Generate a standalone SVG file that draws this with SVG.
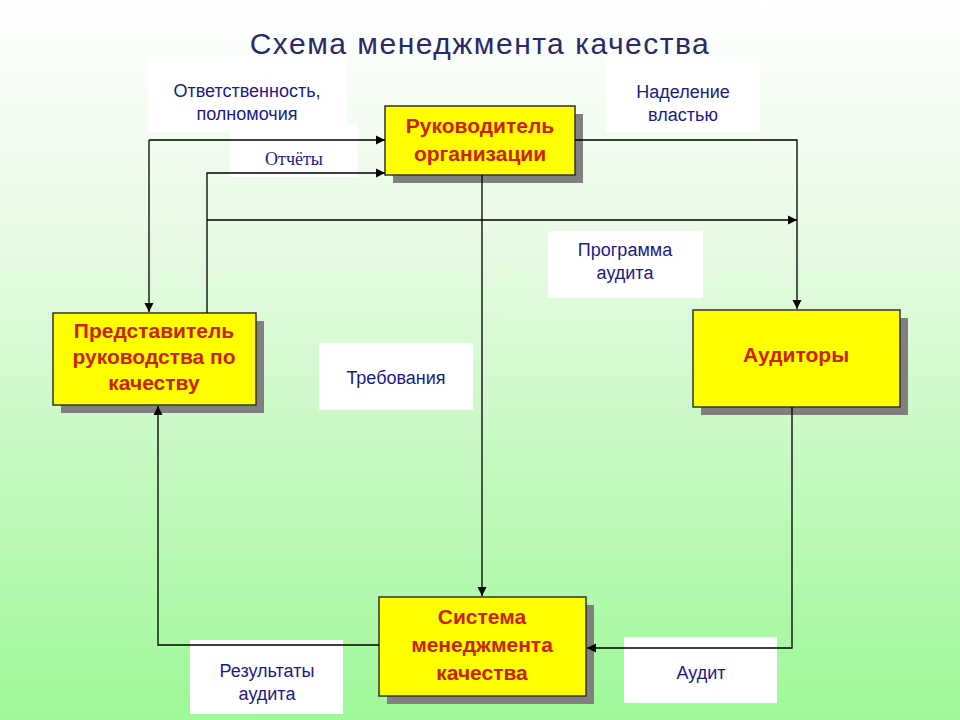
<svg xmlns="http://www.w3.org/2000/svg" width="960" height="720" viewBox="0 0 960 720">
<defs>
<linearGradient id="bg" x1="0" y1="0" x2="0" y2="1">
<stop offset="0" stop-color="#ffffff"/><stop offset="0.35" stop-color="#e6fae2"/><stop offset="1" stop-color="#9ef898"/>
</linearGradient>
<marker id="ar" viewBox="0 0 10 10" refX="10" refY="5" markerWidth="7" markerHeight="7" orient="auto"><path d="M0,0L10,5L0,10z" fill="#000"/></marker>
<style>
.lbl{fill:#fff}
.lt{font-family:"Liberation Sans",Arial,sans-serif;font-size:18px;fill:#1a1a8a;text-anchor:middle}
.sh{fill:#808080}
.nb{fill:#ffff00;stroke:#333;stroke-width:1.5}
.nt{font-family:"Liberation Sans",Arial,sans-serif;font-size:21px;font-weight:bold;fill:#cc2200;text-anchor:middle}
.c{fill:none;stroke:#000;stroke-width:1.3;marker-end:url(#ar)}
</style>
</defs>
<rect width="960" height="720" fill="url(#bg)"/>
<text x="480" y="54" font-family="Liberation Sans,Arial,sans-serif" font-size="30" letter-spacing="1.5" fill="#2a2a6a" text-anchor="middle">Схема менеджмента качества</text>
<g id="labels">
<rect class="lbl" x="147" y="56" width="200" height="76"/>
<text class="lt" x="247" y="97">Ответственность,</text><text class="lt" x="247" y="120">полномочия</text>
<rect class="lbl" x="230" y="124" width="128" height="53"/>
<text x="294" y="165" font-family="Liberation Serif,serif" font-size="18" fill="#1a1a8a" text-anchor="middle">Отчёты</text>
<rect class="lbl" x="606" y="57" width="154" height="75"/>
<text class="lt" x="683" y="98">Наделение</text><text class="lt" x="683" y="121">властью</text>
<rect class="lbl" x="548" y="231" width="155" height="67"/>
<text class="lt" x="625" y="256">Программа</text><text class="lt" x="625" y="279">аудита</text>
<rect class="lbl" x="319" y="343" width="154" height="67"/>
<text class="lt" x="396" y="384">Требования</text>
<rect class="lbl" x="190" y="640" width="153" height="74"/>
<text class="lt" x="267" y="677">Результаты</text><text class="lt" x="267" y="700">аудита</text>
<rect class="lbl" x="624" y="637" width="153" height="66"/>
<text class="lt" x="701" y="679">Аудит</text>
</g>
<g id="n1"><rect class="sh" x="393" y="114" width="190" height="69"/><rect class="nb" x="385" y="106" width="190" height="69"/>
<text class="nt" x="480" y="133">Руководитель</text><text class="nt" x="480" y="161">организации</text></g>
<g id="n2"><rect class="sh" x="61" y="321" width="203" height="92"/><rect class="nb" x="53" y="313" width="203" height="92"/>
<text class="nt" x="154" y="338">Представитель</text><text class="nt" x="154" y="364">руководства по</text><text class="nt" x="154" y="390">качеству</text></g>
<g id="n3"><rect class="sh" x="701" y="318" width="207" height="97"/><rect class="nb" x="693" y="310" width="207" height="97"/>
<text class="nt" x="796" y="362">Аудиторы</text></g>
<g id="n4"><rect class="sh" x="387" y="605" width="207" height="99"/><rect class="nb" x="379" y="597" width="207" height="99"/>
<text class="nt" x="482" y="624">Система</text><text class="nt" x="482" y="652">менеджмента</text><text class="nt" x="482" y="680">качества</text></g>
<g id="connectors">
<path class="c" d="M149,140H385"/>
<path class="c" d="M149,140V312"/>
<path class="c" d="M207,313V173H385"/>
<path class="c" d="M207,220H797"/>
<path class="c" d="M575,140H797V309"/>
<path class="c" d="M482,175V596"/>
<path class="c" d="M792,407V648H587"/>
<path class="c" d="M379,645H158V406"/>
</g>
</svg>
